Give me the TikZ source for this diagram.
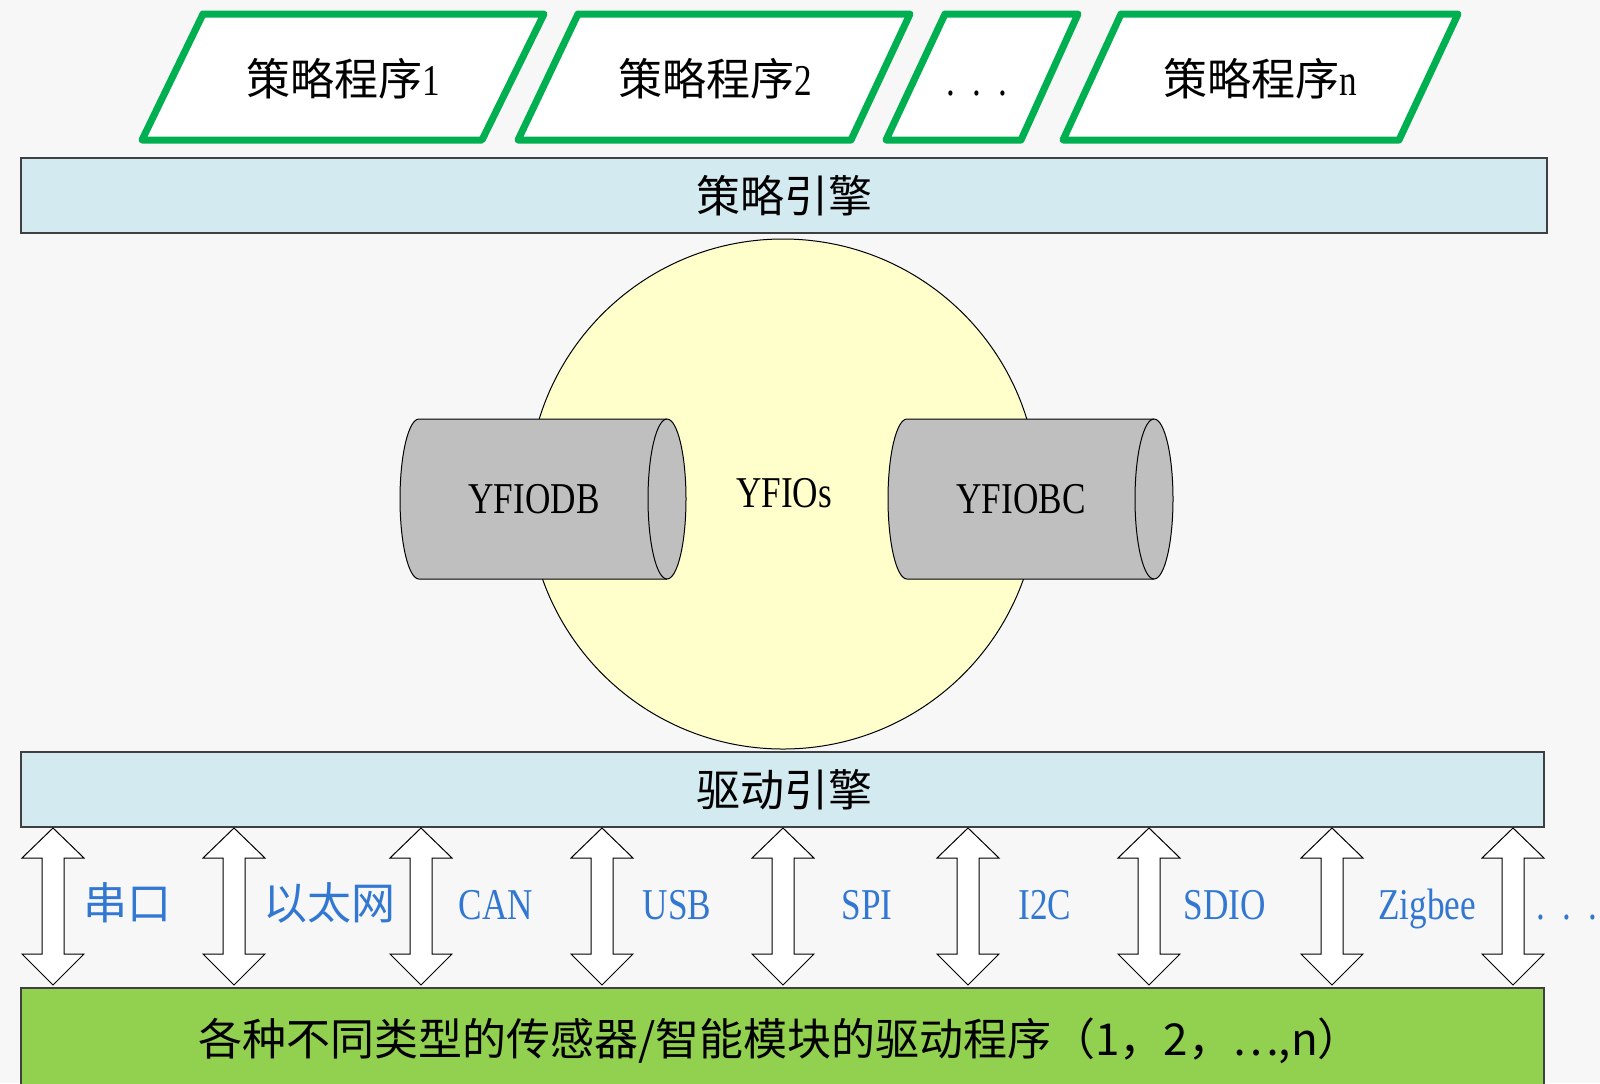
\documentclass[tikz,border=0pt]{standalone}
\usepackage{fontspec}
\setmainfont[FakeStretch=0.8]{Liberation Serif}
\newfontfamily\cjk{Noto Sans CJK SC}
\usetikzlibrary{positioning}
\definecolor{bggray}{RGB}{247,247,247}
\definecolor{progGreen}{RGB}{0,176,80}
\definecolor{engineBlue}{RGB}{210,234,240}
\definecolor{driverGreen}{RGB}{146,208,80}
\definecolor{ioYellow}{RGB}{255,255,204}
\definecolor{storeGray}{RGB}{191,191,191}
\definecolor{busBlue}{RGB}{50,120,210}

\begin{document}
\begin{tikzpicture}
[
x=0.5pt, y=-0.5pt,
every node/.style={inner sep=0pt, anchor=base, font=\fontsize{22}{26}\selectfont},
strategy/.style={draw=progGreen, line width=3.5pt, fill=white, line join=round},
engine/.style={draw=black!75, line width=0.75pt, fill=engineBlue},
store/.style={draw=black, line width=0.5pt, fill=storeGray},
busarrow/.style={draw=black, line width=0.5pt, fill=white},
buslabel/.style={text=busBlue}
]

\fill[bggray] (0,0) rectangle (1600,1083);
\useasboundingbox (0,0) rectangle (1600,1083);

\draw[strategy] (203,14) -- (544,14) -- (482,140) -- (142,140) -- cycle;
\draw[strategy] (578,14) -- (910,14) -- (851,140) -- (518,140) -- cycle;
\draw[strategy] (945,14) -- (1078,14) -- (1021,140) -- (886,140) -- cycle;
\draw[strategy] (1121,14) -- (1458,14) -- (1399,140) -- (1063,140) -- cycle;
\node (prog1) at (343,95) {{\cjk 策略程序}1};
\node (prog2) at (715,95) {{\cjk 策略程序}2};
\node (progdots) at (977,95) {.\hspace{8.6pt}.\hspace{8.6pt}.};
\node (progn) at (1260,95) {{\cjk 策略程序}n};

\draw[engine] (21,158) rectangle (1547,233);
\node (strategyengine) at (784,212) {\cjk 策略引擎};

\draw[fill=ioYellow, draw=black, line width=0.5pt] (783,494) circle [radius=255];
\node (yfios) at (784,507) {YFIOs};

\draw[store] (419,419) -- (667,419)
  arc [start angle=-90, end angle=90, x radius=19, y radius=80]
  -- (419,579)
  arc [start angle=90, end angle=270, x radius=19, y radius=80] -- cycle;
\draw[store, fill=none] (667,419) arc [start angle=270, end angle=90, x radius=19, y radius=80];
\node (yfiodb) at (534,513) {YFIODB};

\draw[store] (907,419) -- (1154,419)
  arc [start angle=-90, end angle=90, x radius=19, y radius=80]
  -- (907,579)
  arc [start angle=90, end angle=270, x radius=19, y radius=80] -- cycle;
\draw[store, fill=none] (1154,419) arc [start angle=270, end angle=90, x radius=19, y radius=80];
\node (yfiobc) at (1021,513) {YFIOBC};

\draw[engine] (21,752) rectangle (1544,827);
\node (driveengine) at (784,806) {\cjk 驱动引擎};

\foreach \c in {53,234,421,602,783,968,1149,1332,1513}
  \draw[busarrow] (\c,828) -- ++(31,30) -- ++(-20,0) -- ++(0,96) -- ++(20,0) -- (\c,985)
    -- ++(-31,-31) -- ++(20,0) -- ++(0,-96) -- ++(-20,0) -- cycle;

\node[buslabel] (serial) at (127,919) {\cjk 串口};
\node[buslabel] (ethernet) at (329,919) {\cjk 以太网};
\node[buslabel] (can) at (496,919) {CAN};
\node[buslabel] (usb) at (677,919) {USB};
\node[buslabel] (spi) at (867,919) {SPI};
\node[buslabel] (iic) at (1045,919) {I2C};
\node[buslabel] (sdio) at (1225,919) {SDIO};
\node[buslabel] (zigbee) at (1427,919) {Zigbee};
\node[buslabel] (busdots) at (1567,919) {.\hspace{8.6pt}.\hspace{8.6pt}.};

\draw[fill=driverGreen, draw=black!75, line width=0.75pt] (21,988) rectangle (1544,1090);
\node (drivers) at (780,1055) {\cjk 各种不同类型的传感器/智能模块的驱动程序（1，2，…,n）};
\end{tikzpicture}
\end{document}
